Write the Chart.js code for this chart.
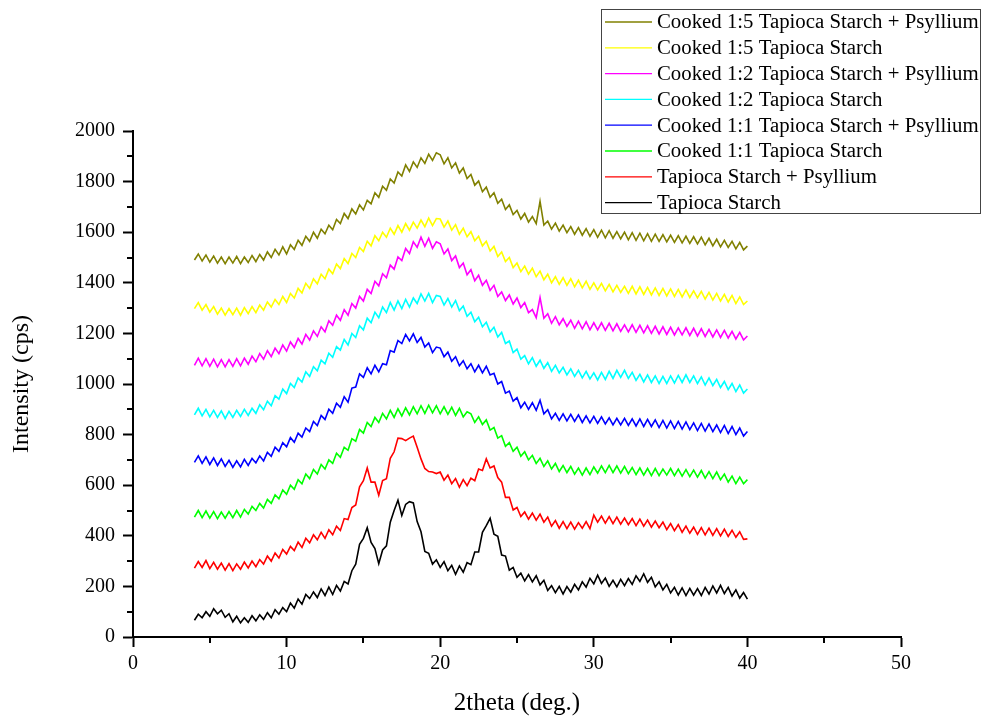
<!DOCTYPE html>
<html>
<head>
<meta charset="utf-8">
<title>XRD patterns</title>
<script src="https://cdn.jsdelivr.net/npm/chart.js@4.4.0/dist/chart.umd.min.js"></script>
<style>
  body { margin: 0; background: #fff; }
  canvas { display: block; }
</style>
</head>
<body>
<canvas id="xrdChart" width="983" height="722"></canvas>
<script>
    // scan grid: 4 to 40 deg, 0.25 deg steps (145 points)
    const twoTheta = [];
    for (let i = 0; i <= 144; i++) twoTheta.push(4 + i * 0.25);

    // intensities (cps), one row = 2 deg
    const tapiocaStarch = [
        66, 90, 76, 100, 82, 112, 92, 106,
        78, 92, 60, 82, 56, 76, 58, 84,
        64, 88, 70, 96, 76, 108, 90, 116,
        100, 134, 114, 150, 130, 168, 152, 178,
        156, 190, 164, 197, 168, 204, 182, 220,
        210, 262, 288, 366, 390, 432, 374, 350,
        290, 344, 360, 454, 500, 541, 480, 524,
        535, 530, 456, 416, 338, 331, 288, 305,
        275, 298, 262, 283, 248, 281, 256, 294,
        286, 336, 336, 414, 440, 469, 406, 398,
        324, 320, 264, 275, 236, 252, 222, 247,
        218, 242, 206, 224, 184, 203, 175, 200,
        170, 199, 177, 208, 186, 218, 197, 232,
        210, 244, 212, 233, 200, 224, 198, 228,
        203, 231, 208, 242, 220, 250, 216, 236,
        198, 218, 186, 208, 174, 196, 166, 194,
        164, 192, 165, 191, 164, 196, 170, 202,
        174, 204, 172, 196, 162, 186, 154, 176,
        150
    ];
    const tapiocaPsyllium = [
        272, 298, 275, 302, 270, 295, 268, 292,
        264, 290, 262, 289, 268, 296, 273, 300,
        278, 306, 288, 320, 300, 332, 312, 346,
        328, 358, 342, 375, 354, 390, 372, 404,
        384, 414, 390, 424, 404, 438, 421, 468,
        464, 512, 522, 594, 618, 668, 612, 612,
        560, 618, 626, 706, 732, 786, 784, 776,
        786, 794, 750, 704, 666, 654, 652, 646,
        652, 620, 640, 606, 626, 592, 622, 598,
        628, 618, 664, 658, 704, 668, 676, 630,
        612, 552, 552, 502, 512, 476, 494, 466,
        490, 462, 486, 454, 474, 438, 460, 430,
        456, 428, 454, 426, 452, 430, 456, 428,
        482, 454, 478, 450, 476, 448, 474, 446,
        470, 444, 468, 440, 466, 438, 462, 434,
        458, 432, 454, 424, 448, 420, 444, 414,
        438, 410, 434, 406, 432, 404, 430, 402,
        428, 400, 426, 398, 422, 394, 416, 386,
        388
    ];
    const cooked11 = [
        474, 500, 472, 498, 470, 496, 468, 494,
        470, 496, 472, 500, 474, 504, 486, 516,
        500, 528, 510, 544, 528, 562, 546, 581,
        564, 600, 584, 622, 606, 644, 626, 662,
        644, 682, 664, 700, 686, 726, 710, 750,
        738, 784, 774, 820, 806, 848, 832, 868,
        848, 884, 862, 896, 868, 902, 874, 906,
        878, 910, 882, 914, 884, 916, 886, 914,
        882, 910, 880, 908, 876, 904, 870, 890,
        882, 848, 870, 840, 858, 818, 828, 786,
        796, 754, 768, 734, 750, 714, 732, 700,
        718, 686, 706, 674, 696, 664, 686, 654,
        678, 650, 674, 644, 668, 640, 668, 642,
        672, 648, 676, 650, 678, 650, 676, 648,
        674, 646, 670, 642, 668, 640, 666, 638,
        666, 638, 664, 640, 666, 638, 664, 636,
        662, 634, 660, 632, 658, 628, 654, 626,
        652, 622, 644, 612, 636, 606, 632, 606,
        622
    ];
    const cooked11Psyllium = [
        690, 716, 686, 712, 682, 708, 678, 704,
        674, 698, 670, 696, 672, 702, 678, 706,
        688, 716, 696, 730, 714, 750, 734, 768,
        752, 788, 770, 806, 790, 826, 812, 852,
        836, 876, 860, 900, 884, 924, 908, 950,
        928, 984, 988, 1040, 1026, 1064, 1040, 1074,
        1048, 1080, 1076, 1132, 1126, 1172, 1160, 1196,
        1170, 1198, 1164, 1184, 1146, 1162, 1124, 1146,
        1142, 1108, 1126, 1090, 1108, 1072, 1092, 1060,
        1080, 1048, 1074, 1044, 1070, 1036, 1042, 1000,
        1010, 964, 972, 932, 946, 906, 928, 900,
        926, 896, 936, 882, 898, 862, 884, 856,
        882, 854, 880, 852, 878, 848, 874, 846,
        872, 844, 870, 842, 866, 838, 864, 838,
        864, 836, 862, 834, 862, 832, 860, 832,
        858, 828, 856, 826, 854, 824, 852, 822,
        850, 820, 846, 816, 844, 814, 842, 812,
        838, 808, 836, 804, 832, 800, 826, 794,
        812
    ];
    const cooked12 = [
        878, 904, 874, 900, 870, 896, 868, 894,
        864, 892, 868, 896, 872, 900, 876, 904,
        884, 918, 898, 932, 914, 954, 940, 980,
        962, 1002, 986, 1024, 1008, 1048, 1030, 1068,
        1052, 1094, 1080, 1122, 1106, 1148, 1134, 1176,
        1154, 1200, 1184, 1230, 1214, 1260, 1242, 1284,
        1262, 1304, 1282, 1322, 1292, 1328, 1298, 1334,
        1304, 1340, 1318, 1356, 1328, 1358, 1322, 1350,
        1346, 1312, 1338, 1304, 1330, 1290, 1308, 1268,
        1284, 1246, 1264, 1226, 1244, 1206, 1224, 1186,
        1204, 1160, 1170, 1124, 1138, 1098, 1112, 1080,
        1104, 1070, 1094, 1062, 1084, 1050, 1074, 1044,
        1066, 1036, 1060, 1030, 1054, 1024, 1050, 1020,
        1044, 1016, 1046, 1018, 1050, 1022, 1054, 1026,
        1054, 1022, 1046, 1014, 1038, 1008, 1036, 1006,
        1032, 1002, 1030, 1002, 1032, 1004, 1034, 1006,
        1036, 1006, 1032, 1002, 1028, 996, 1024, 994,
        1018, 986, 1010, 978, 1002, 970, 996, 964,
        980
    ];
    const cooked12Psyllium = [
        1074, 1102, 1072, 1100, 1070, 1098, 1068, 1096,
        1068, 1096, 1070, 1100, 1072, 1102, 1078, 1110,
        1088, 1120, 1098, 1132, 1108, 1142, 1120, 1154,
        1130, 1166, 1144, 1180, 1158, 1196, 1174, 1210,
        1188, 1226, 1206, 1250, 1232, 1272, 1252, 1294,
        1272, 1318, 1300, 1346, 1328, 1374, 1358, 1406,
        1388, 1436, 1420, 1470, 1454, 1502, 1488, 1536,
        1516, 1562, 1540, 1580, 1544, 1576, 1536, 1562,
        1554, 1514, 1534, 1488, 1506, 1460, 1478, 1432,
        1452, 1408, 1430, 1390, 1410, 1370, 1390, 1346,
        1364, 1330, 1352, 1316, 1340, 1302, 1322, 1282,
        1294, 1262, 1342, 1260, 1278, 1240, 1266, 1234,
        1258, 1228, 1252, 1220, 1248, 1218, 1246, 1214,
        1242, 1214, 1242, 1212, 1240, 1210, 1238, 1208,
        1234, 1206, 1234, 1204, 1232, 1202, 1230, 1200,
        1228, 1198, 1226, 1196, 1224, 1194, 1222, 1194,
        1222, 1192, 1220, 1190, 1218, 1188, 1216, 1186,
        1214, 1184, 1212, 1182, 1208, 1178, 1204, 1174,
        1190
    ];
    const cooked15 = [
        1298, 1322, 1292, 1314, 1284, 1306, 1276, 1300,
        1272, 1298, 1274, 1300, 1272, 1302, 1278, 1306,
        1282, 1312, 1292, 1324, 1304, 1334, 1314, 1346,
        1322, 1358, 1340, 1378, 1360, 1398, 1378, 1416,
        1396, 1434, 1416, 1454, 1436, 1474, 1456, 1496,
        1476, 1516, 1500, 1540, 1524, 1564, 1546, 1586,
        1566, 1600, 1580, 1616, 1592, 1626, 1600, 1634,
        1608, 1640, 1616, 1648, 1622, 1656, 1626, 1654,
        1652, 1620, 1644, 1608, 1630, 1592, 1616, 1582,
        1602, 1566, 1584, 1546, 1564, 1526, 1544, 1504,
        1522, 1484, 1500, 1460, 1478, 1444, 1466, 1434,
        1458, 1424, 1446, 1412, 1434, 1400, 1424, 1394,
        1420, 1390, 1416, 1384, 1410, 1380, 1406, 1374,
        1400, 1372, 1398, 1368, 1394, 1364, 1390, 1362,
        1386, 1358, 1386, 1356, 1384, 1354, 1382, 1352,
        1380, 1350, 1378, 1348, 1376, 1346, 1374, 1344,
        1372, 1342, 1368, 1340, 1366, 1336, 1362, 1332,
        1358, 1328, 1354, 1324, 1350, 1318, 1344, 1314,
        1328
    ];
    const cooked15Psyllium = [
        1490, 1514, 1486, 1510, 1482, 1506, 1478, 1502,
        1476, 1502, 1478, 1504, 1476, 1502, 1480, 1508,
        1484, 1512, 1490, 1522, 1500, 1532, 1510, 1542,
        1514, 1550, 1532, 1568, 1548, 1584, 1564, 1600,
        1576, 1612, 1594, 1628, 1610, 1650, 1634, 1674,
        1654, 1692, 1672, 1708, 1688, 1726, 1712, 1756,
        1738, 1782, 1766, 1810, 1794, 1838, 1822, 1866,
        1840, 1878, 1856, 1894, 1872, 1908, 1884, 1914,
        1906, 1870, 1894, 1854, 1874, 1834, 1854, 1812,
        1828, 1786, 1802, 1760, 1778, 1738, 1756, 1714,
        1730, 1690, 1708, 1670, 1686, 1652, 1674, 1640,
        1662, 1634, 1722, 1628, 1644, 1612, 1636, 1604,
        1628, 1598, 1622, 1592, 1618, 1588, 1614, 1584,
        1610, 1580, 1608, 1578, 1606, 1576, 1602, 1574,
        1600, 1570, 1598, 1568, 1596, 1566, 1594, 1564,
        1592, 1564, 1590, 1562, 1588, 1560, 1586, 1558,
        1584, 1556, 1582, 1554, 1580, 1550, 1576, 1546,
        1572, 1542, 1568, 1540, 1564, 1534, 1560, 1530,
        1545
    ];

    // legend order, top to bottom
    const seriesNames = [
        "Cooked 1:5 Tapioca Starch + Psyllium",
        "Cooked 1:5 Tapioca Starch",
        "Cooked 1:2 Tapioca Starch + Psyllium",
        "Cooked 1:2 Tapioca Starch",
        "Cooked 1:1 Tapioca Starch + Psyllium",
        "Cooked 1:1 Tapioca Starch",
        "Tapioca Starch + Psyllium",
        "Tapioca Starch"
    ];
    const seriesValues = [
        cooked15Psyllium, cooked15, cooked12Psyllium, cooked12,
        cooked11Psyllium, cooked11, tapiocaPsyllium, tapiocaStarch
    ];
    const seriesColors = [
        "#808000", "#FFFF00", "#FF00FF", "#00FFFF",
        "#0000FF", "#00FF00", "#FF0000", "#000000"
    ];

    const serif = '"Liberation Serif", "Times New Roman", serif';
    Chart.defaults.font.family = serif;
    Chart.defaults.color = '#000';

    /** Ticks menores en ambos ejes */
    const minorTicks = {
        id: 'minorTicks',
        afterDraw(chart) {
            const { ctx, chartArea, scales: { x, y } } = chart;
            ctx.save();
            ctx.strokeStyle = '#000';
            ctx.lineWidth = 2;
            ctx.beginPath();
            for (let v = 5; v < 50; v += 10) {
                const px = Math.round(x.getPixelForValue(v));
                ctx.moveTo(px, chartArea.bottom);
                ctx.lineTo(px, chartArea.bottom + 6);
            }
            for (let v = 100; v < 2000; v += 200) {
                const py = Math.round(y.getPixelForValue(v));
                ctx.moveTo(chartArea.left, py);
                ctx.lineTo(chartArea.left - 6, py);
            }
            ctx.stroke();
            ctx.restore();
        }
    };

    /** Leyenda en caja, arriba a la derecha */
    const boxLegend = {
        id: 'boxLegend',
        afterDraw(chart) {
            const ctx = chart.ctx;
            ctx.save();
            ctx.fillStyle = '#fff';
            ctx.fillRect(601, 9, 379, 204);
            ctx.strokeStyle = '#444';
            ctx.lineWidth = 1;
            ctx.strokeRect(601.5, 9.5, 379, 204);
            ctx.font = '20.8px ' + serif;
            ctx.textBaseline = 'middle';
            seriesNames.forEach((name, i) => {
                const rowY = 22 + i * 25.8;
                ctx.strokeStyle = seriesColors[i];
                ctx.lineWidth = 1.3;
                ctx.beginPath();
                ctx.moveTo(605, rowY);
                ctx.lineTo(652, rowY);
                ctx.stroke();
                ctx.fillStyle = '#000';
                ctx.fillText(name, 657, rowY + 1);
            });
            ctx.restore();
        }
    };

    new Chart(document.getElementById('xrdChart'), {
        type: 'line',
        data: {
            datasets: seriesValues.map((vals, i) => ({
                label: seriesNames[i],
                data: vals.map((v, k) => ({ x: twoTheta[k], y: v })),
                borderColor: seriesColors[i],
                borderWidth: 1.6,
                pointRadius: 0,
                tension: 0,
                fill: false
            }))
        },
        options: {
            responsive: false,
            animation: false,
            layout: { padding: { top: 131, right: 82, left: 0, bottom: 0 } },
            plugins: {
                legend: { display: false },
                tooltip: { enabled: false }
            },
            scales: {
                x: {
                    type: 'linear',
                    min: 0,
                    max: 50,
                    ticks: { stepSize: 10, padding: 5, font: { size: 20 }, callback: v => String(v) },
                    grid: { drawOnChartArea: false, tickLength: 10, tickWidth: 2, tickColor: '#000' },
                    border: { color: '#000', width: 2 },
                    title: { display: true, text: '2theta (deg.)', font: { size: 25 }, padding: { top: 4, bottom: 4 } },
                    afterFit(scale) { scale.height = 85; }
                },
                y: {
                    min: 0,
                    max: 2000,
                    ticks: { stepSize: 200, padding: 8, font: { size: 20 }, callback: v => String(v) },
                    grid: { drawOnChartArea: false, tickLength: 10, tickWidth: 2, tickColor: '#000' },
                    border: { color: '#000', width: 2 },
                    title: { display: true, text: 'Intensity (cps)', font: { size: 24 }, padding: { top: 7, bottom: 7 } },
                    afterFit(scale) { scale.width = 133; }
                }
            }
        },
        plugins: [minorTicks, boxLegend]
    });
</script>
</body>
</html>
